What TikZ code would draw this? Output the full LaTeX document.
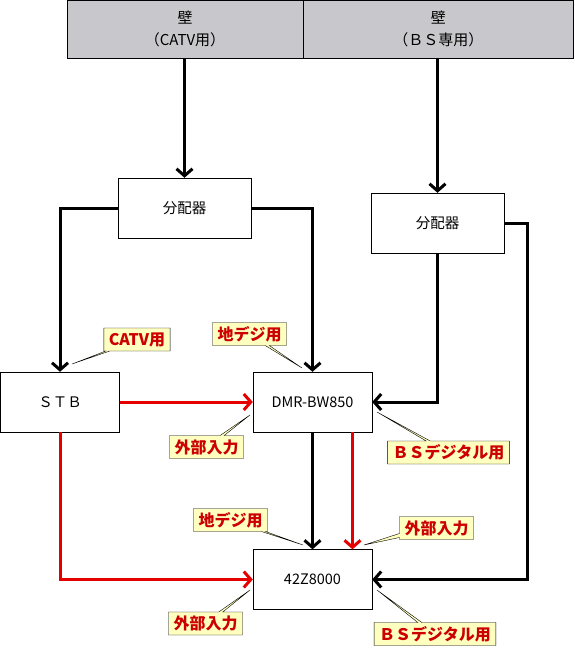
\documentclass[tikz,border=0pt]{standalone}
\usepackage{fontspec}
\setmainfont{Noto Sans CJK JP}
\usetikzlibrary{positioning}
\usetikzlibrary{arrows.meta}
\usetikzlibrary{shapes, shapes.callouts}
\definecolor{wallgray}{RGB}{200,200,204}
\definecolor{noteyellow}{RGB}{255,255,192}
\definecolor{notered}{RGB}{204,0,0}

\begin{document}
\begin{tikzpicture}[x=1pt,y=-1pt,
		box/.style={draw,fill=white,minimum width=133,minimum height=60,inner sep=0pt,font=\fontsize{14.5}{17}\selectfont},
		wall/.style={draw,fill=wallgray,minimum height=58,inner sep=0pt,align=center,font=\fontsize{15}{22}\selectfont},
		arr/.style={line width=3pt,-{Straight Barb[length=7pt,width=16pt]}},
		arrR/.style={arr,draw=red!90!black},
		note/.style={draw,thin,fill=noteyellow,rectangle callout,callout pointer width=4pt,inner xsep=5pt,inner ysep=1pt,minimum height=23,text=notered,font=\fontsize{16}{18}\selectfont\bfseries}]
		\useasboundingbox (0,0) rectangle (574,651);
		% walls
		\node [wall,minimum width=236] (W1) at (185,29) {壁\\（CATV用）};
		\node [wall,minimum width=270.5] (W2) at (438.25,29) {壁\\（ＢＳ専用）};
		% devices
		\node [box] (S1) at (184.5,208) {分配器};
		\node [box] (S2) at (437.5,223) {分配器};
		\node [box,minimum width=119] (STB) at (60,402) {ＳＴＢ};
		\node [box,minimum width=119] (DMR) at (312.5,402) {DMR-BW850};
		\node [box,minimum width=119] (TV) at (312.5,579.5) {42Z8000};
		% connectors
		\draw [arr] (W1.south -| S1.north) -- (S1.north);
		\draw [arr] (W2.south -| S2.north) -- (S2.north);
		\draw [arr] (S1.west) -| (STB.north);
		\draw [arr] (S1.east) -| (DMR.north);
		\draw [arr] (S2.south) |- (DMR.east);
		\draw [arr] (S2.east) -- ++(23,0) |- (TV.east);
		\draw [arrR] (STB.east) -- (DMR.west);
		\draw [arrR] (STB.south) |- (TV.west);
		\draw [arr] (DMR.south) -- (TV.north);
		\draw [arrR] ([xshift=40pt]DMR.south) -- ([xshift=40pt]TV.north);
		% notes
		\node [note,callout absolute pointer={(72,364)}] (C1) at (137,339.5) {CATV用};
		\node [note,callout absolute pointer={(302,368)}] (C2) at (249.5,334) {地デジ用};
		\node [note,callout absolute pointer={(250,415)}] (C3) at (206.5,447) {外部入力};
		\node [note,callout absolute pointer={(377,412)}] (C4) at (448.5,452.5) {ＢＳデジタル用};
		\node [note,callout absolute pointer={(303,545)}] (C5) at (230.5,520) {地デジ用};
		\node [note,callout absolute pointer={(364,545)}] (C6) at (436.5,528) {外部入力};
		\node [note,callout absolute pointer={(250,590)}] (C7) at (205.5,623.5) {外部入力};
		\node [note,callout absolute pointer={(377,590)}] (C8) at (435,634) {ＢＳデジタル用};
	\end{tikzpicture}
\end{document}
